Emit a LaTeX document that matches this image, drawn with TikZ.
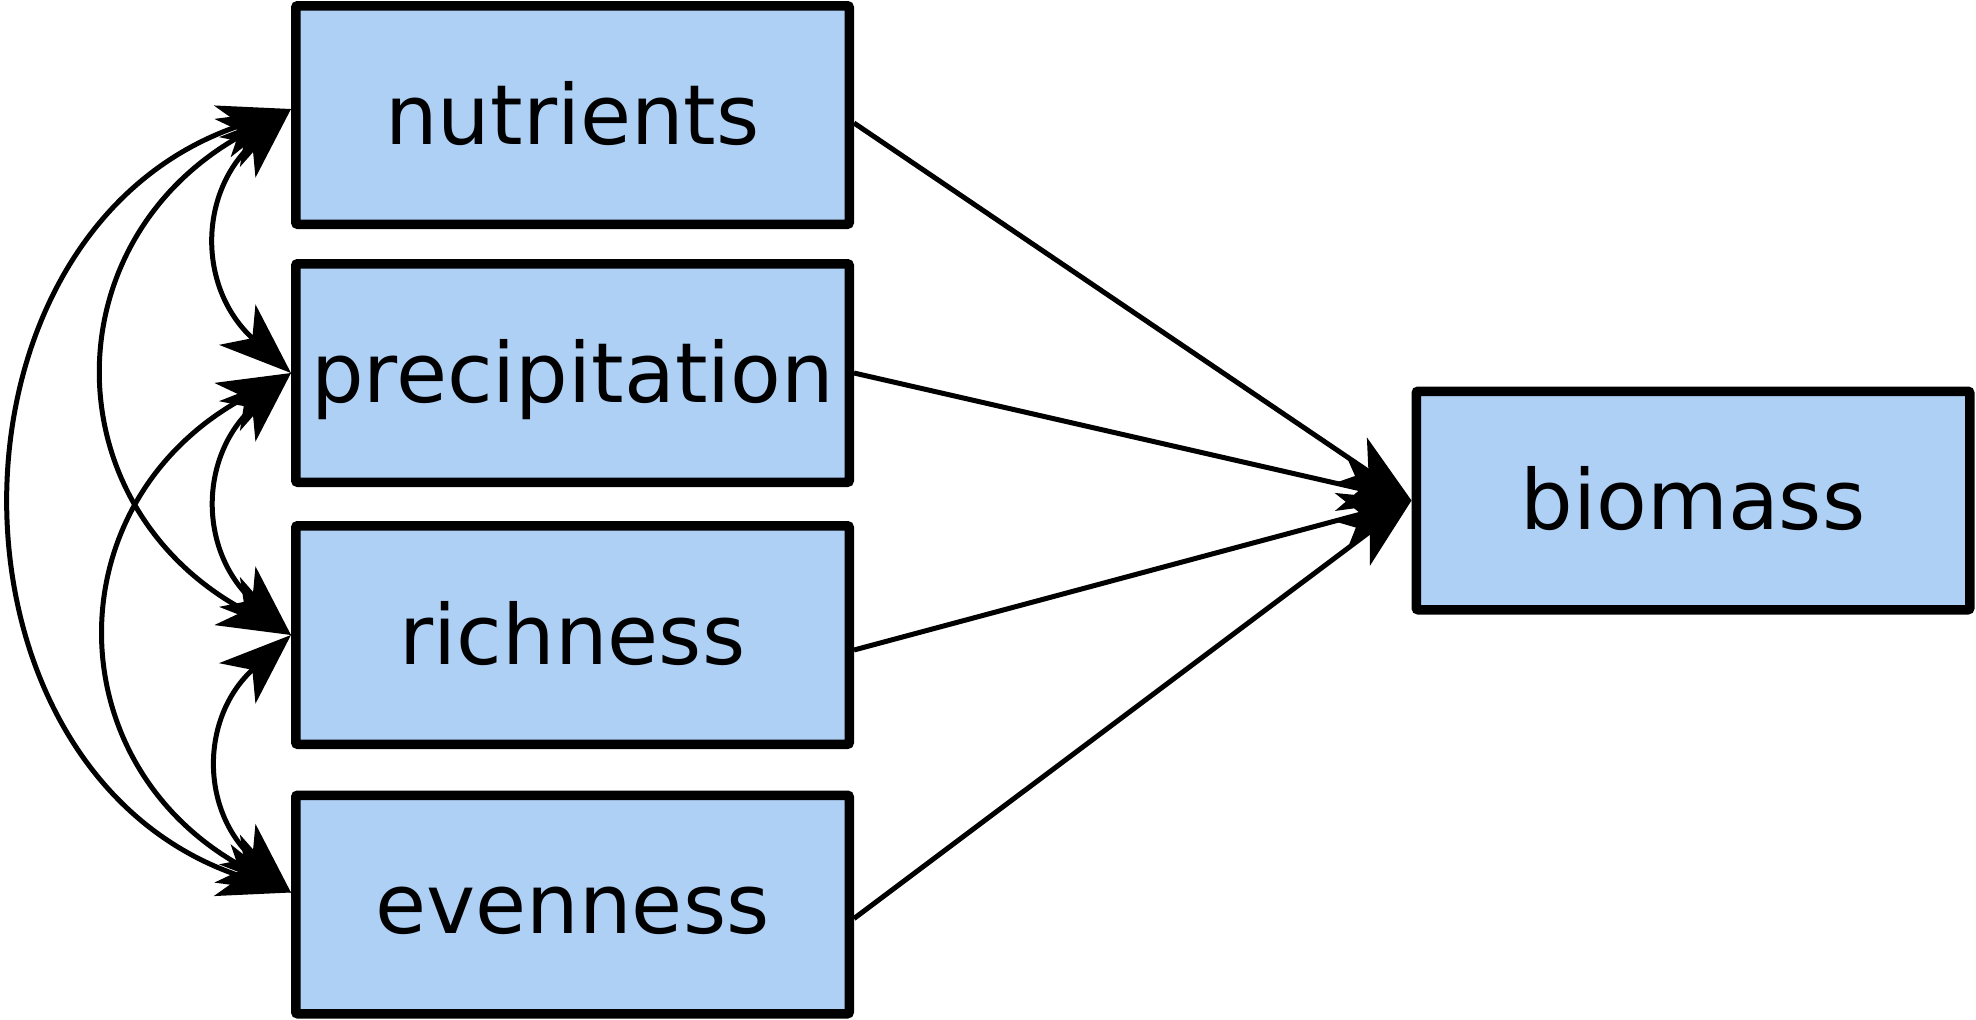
\documentclass[tikz,border=0pt]{standalone}
\usepackage{fontspec}
\setmainfont{DejaVu Sans}
\usepackage{tikz}
\usetikzlibrary{arrows.meta, positioning}
\definecolor{boxblue}{HTML}{AED0F5}
\tikzstyle{var} = [draw, line width=4.75pt, fill=boxblue, rounded corners=1pt, minimum width=276.75pt, minimum height=109.25pt, inner sep=0pt, text height=29pt, text depth=0pt, font=\fontsize{41.5}{49}\selectfont]
\tikzstyle{effect} = [line width=2.5pt, -{Stealth[length=36pt, width=27pt, inset=10pt]}]
\tikzstyle{covar} = [line width=2.5pt, {Stealth[length=36pt, width=27pt, inset=10pt]}-{Stealth[length=36pt, width=27pt, inset=10pt]}]

\begin{document}
\begin{tikzpicture}[x=0.5pt, y=0.5pt]
    \useasboundingbox (0,0) rectangle (1976,-1019);

    % Predictors
    \node[var] (nut) at (572.5,-115) {nutrients};
    \node[var] (pre) at (572.5,-373) {precipitation};
    \node[var] (ric) at (572.5,-635) {richness};
    \node[var] (eve) at (572.5,-904.5) {evenness};

    % Response
    \node[var] (bio) at (1693,-500.5) {biomass};

    % Regressions
    \draw[effect] ([yshift=-4pt]nut.east) -- (bio.west);
    \draw[effect] (pre.east) -- (bio.west);
    \draw[effect] ([yshift=-7.5pt]ric.east) -- (bio.west);
    \draw[effect] ([yshift=-7pt]eve.east) -- (bio.west);

    % Covariances
    \draw[covar] ([yshift=3pt]nut.west) to[bend right=48, looseness=1.22] (pre.west);
    \draw[covar] (pre.west) to[bend right=48, looseness=1.22] (ric.west);
    \draw[covar] (ric.west) to[bend right=48, looseness=1.22] ([yshift=6pt]eve.west);
    \draw[covar] ([yshift=3pt]nut.west) to[bend right=62, looseness=1.33] (ric.west);
    \draw[covar] (pre.west) to[bend right=62, looseness=1.33] ([yshift=6pt]eve.west);
    \draw[covar] ([yshift=3pt]nut.west) to[bend right=72, looseness=1.25] ([yshift=6pt]eve.west);
\end{tikzpicture}
\end{document}
